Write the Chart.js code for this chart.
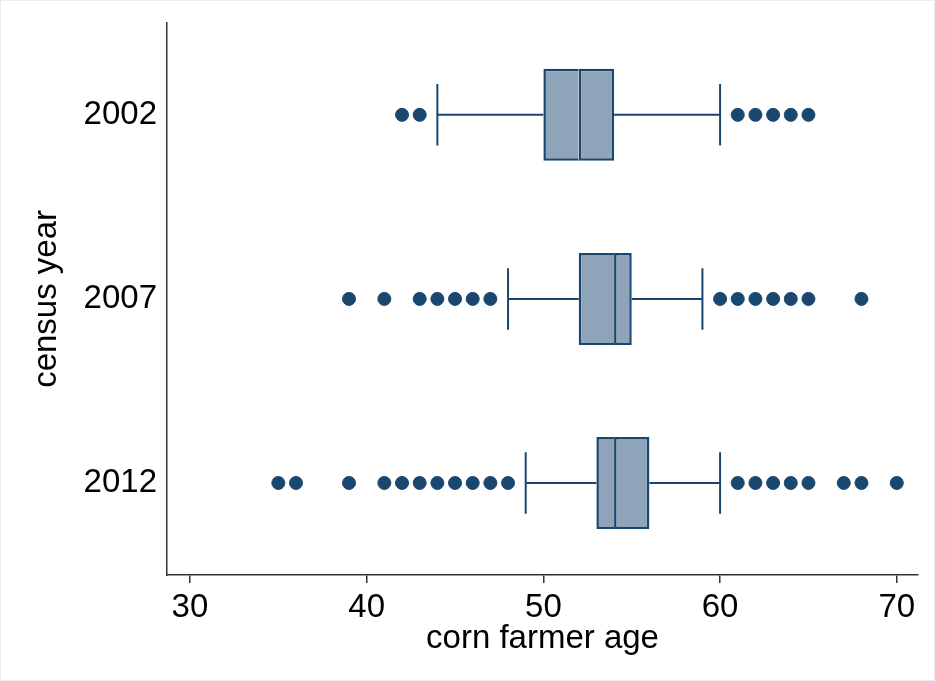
<!DOCTYPE html>
<html>
<head>
<meta charset="utf-8">
<script src="https://cdn.jsdelivr.net/npm/chart.js@4"></script>
<style>
  html, body { margin: 0; padding: 0; background: #fff; }
  #wrap { width: 935px; height: 681px; position: relative; box-sizing: border-box; border: 1px solid #ececec; }
</style>
</head>
<body>
<div id="wrap"><canvas id="chart" width="933" height="679"></canvas></div>
<script>
const years = ['2002', '2007', '2012'];
const q1 = [50, 52, 53];
const median = [52, 54, 54];
const q3 = [54, 55, 56];
const whiskerLow = [44, 48, 49];
const whiskerHigh = [60, 59, 60];
const outliers2002 = [42, 43, 61, 62, 63, 64, 65];
const outliers2007 = [39, 41, 43, 44, 45, 46, 47, 60, 61, 62, 63, 64, 65, 68];
const outliers2012 = [35, 36, 39, 41, 42, 43, 44, 45, 46, 47, 48, 61, 62, 63, 64, 65, 67, 68, 70];
const xTicks = [30, 40, 50, 60, 70];

const navy = '#1a476f';
const boxFill = '#8fa4b9';
const axisColor = '#333333';
const font = { family: 'Liberation Sans, Arial, sans-serif', size: 33 };

const outlierPoints = [];
[outliers2002, outliers2007, outliers2012].forEach((list, i) => {
    list.forEach(v => outlierPoints.push({ x: v, y: years[i] }));
});

// whiskers and caps, drawn from the data through the chart scales
const whiskerPlugin = {
    id: 'whiskers',
    beforeDatasetsDraw(chart) {
        const ctx = chart.ctx;
        const xs = chart.scales.x;
        const ys = chart.scales.y;
        const band = ys.getPixelForValue(1) - ys.getPixelForValue(0);
        const capHalf = band * 0.167;
        ctx.save();
        ctx.strokeStyle = navy;
        ctx.lineWidth = 2;
        years.forEach((y, i) => {
            const cy = ys.getPixelForValue(i);
            const lo = xs.getPixelForValue(whiskerLow[i]);
            const hi = xs.getPixelForValue(whiskerHigh[i]);
            ctx.beginPath();
            ctx.moveTo(lo, cy);
            ctx.lineTo(xs.getPixelForValue(q1[i]), cy);
            ctx.moveTo(xs.getPixelForValue(q3[i]), cy);
            ctx.lineTo(hi, cy);
            ctx.moveTo(lo, cy - capHalf);
            ctx.lineTo(lo, cy + capHalf);
            ctx.moveTo(hi, cy - capHalf);
            ctx.lineTo(hi, cy + capHalf);
            ctx.stroke();
        });
        ctx.restore();
    }
};

new Chart(document.getElementById('chart'), {
    type: 'bar',
    data: {
        labels: years,
        datasets: [
            {
                label: 'lower box',
                data: years.map((y, i) => [q1[i], median[i]]),
                backgroundColor: boxFill,
                borderColor: navy,
                borderWidth: { top: 2.5, bottom: 2.5, left: 2.5, right: 0 },
                borderSkipped: false,
                grouped: false,
                barPercentage: 0.5,
                categoryPercentage: 1
            },
            {
                label: 'upper box',
                data: years.map((y, i) => [median[i], q3[i]]),
                backgroundColor: boxFill,
                borderColor: navy,
                borderWidth: 2.5,
                borderSkipped: false,
                grouped: false,
                barPercentage: 0.5,
                categoryPercentage: 1
            },
            {
                type: 'scatter',
                label: 'outliers',
                indexAxis: 'x',
                data: outlierPoints,
                backgroundColor: navy,
                borderColor: navy,
                pointRadius: 6.5,
                pointHoverRadius: 6.5
            }
        ]
    },
    options: {
        indexAxis: 'y',
        responsive: false,
        animation: false,
        layout: { padding: { top: 14, right: 16, left: 0, bottom: 0 } },
        plugins: {
            legend: { display: false },
            tooltip: { enabled: false }
        },
        scales: {
            x: {
                type: 'linear',
                min: 28.7,
                max: 71.2,
                afterBuildTicks: (s) => { s.ticks = xTicks.map(v => ({ value: v })); },
                afterFit: (s) => { s.height = 105; },
                grid: { display: true, drawOnChartArea: false, drawTicks: true, tickLength: 8, color: axisColor, lineWidth: 1.5 },
                border: { display: true, color: axisColor, width: 1.5 },
                ticks: { color: '#000', font: font, padding: 5, maxRotation: 0 },
                title: { display: true, text: 'corn farmer age', color: '#000', font: font, padding: { top: 0, bottom: 21 } }
            },
            y: {
                type: 'category',
                offset: true,
                afterFit: (s) => { s.width = 166; },
                grid: { display: false },
                border: { display: true, color: axisColor, width: 1.5 },
                ticks: { color: '#000', font: font, padding: 2 },
                title: { display: true, text: 'census year', color: '#000', font: font, padding: { top: 26, bottom: 0 } }
            }
        }
    },
    plugins: [whiskerPlugin]
});
</script>
</body>
</html>
